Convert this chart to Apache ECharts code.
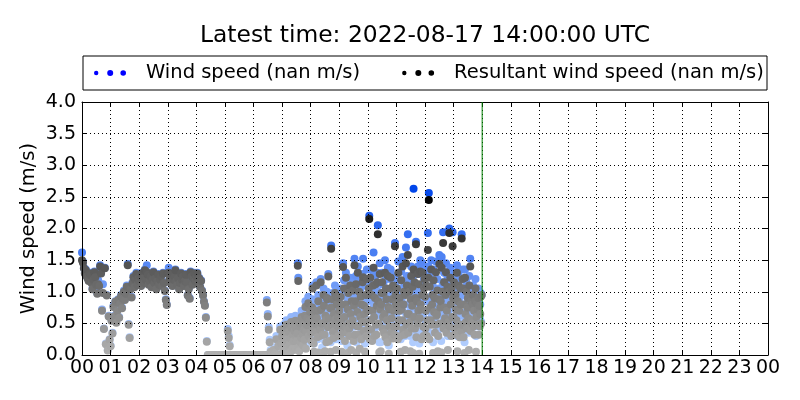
<!DOCTYPE html>
<html><head><meta charset="utf-8">
<script src="https://cdn.jsdelivr.net/npm/echarts@6/dist/echarts.min.js"></script>
<style>html,body{margin:0;padding:0;background:#fff}#c{width:800px;height:400px}</style>
</head><body><div id="c"></div>
<script>
const titleText = 'Latest time: 2022-08-17 14:00:00 UTC';
const windName = 'Wind speed (nan m/s)';
const resName = 'Resultant wind speed (nan m/s)';
const yName = 'Wind speed (m/s)';
const latestHour = 14;
const xTickLabels = ['00','01','02','03','04','05','06','07','08','09','10','11','12','13','14','15','16','17','18','19','20','21','22','23','00'];

// wind speed per hour (m/s); hours 00-06 at 2-minute steps, 07-13 at 1-minute steps
const ws00 = [1.62,1.48,1.38,1.30,1.35,1.25,1.22,1.18,1.30,1.27,1.15,1.05,1.20,1.32,1.24,1.12,0.98,1.18,1.10,1.42,1.30,0.72,1.12,0.42,1.38,0.18,0.95,0.08,0.62,0.25];
const ws01 = [0.15,0.55,0.35,0.78,0.62,0.85,0.52,0.70,0.88,0.60,0.82,0.95,0.75,0.90,1.02,0.88,0.98,1.10,1.44,0.49,0.28,1.05,0.92,1.15,1.25,1.08,1.20,1.30,1.12,1.22];
const ws02 = [1.18,1.25,1.10,1.30,1.22,1.15,1.35,1.20,1.42,1.28,1.12,1.18,1.25,1.08,1.20,1.32,1.15,1.22,1.05,1.18,1.28,1.12,1.20,1.25,1.10,1.30,1.15,1.02,0.88,0.80];
const ws03 = [1.30,1.38,1.22,1.15,1.28,1.10,1.20,1.25,1.35,1.18,1.12,1.22,1.05,1.15,1.30,1.20,1.25,1.10,1.18,1.28,1.15,0.95,1.05,0.90,1.32,1.25,1.12,1.22,1.30,1.18];
const ws04 = [1.25,1.30,1.15,1.22,1.08,1.18,1.02,0.95,0.85,0.79,0.60,0.22,0,0,0,0,0,0,0,0,0,0,0,0,0,0,0,0,0,0];
const ws05 = [0,0,0,0.41,0.30,0.16,0,0,0,0,0,0,0,0,0,0,0,0,0,0,0,0,0,0,0,0,0,0,0,0];
const ws06 = [0,0,0,0,0,0,0,0,0,0,0,0,0,0,0.87,0.65,0.44,0.24,0.08,0,0,0.12,0,0.05,0.30,0,0.18,0,0.45,0.22];
const ws07 = [0.35,0.20,0.12,0.42,0.48,0.28,0.25,0.05,0.15,0.55,0.38,0.30,0.10,0.18,0.45,0.42,0.22,0.08,0.32,0.60,
  0.50,0.22,0.15,0.38,0.28,0.12,0.45,0.15,0.62,0.50,0.35,0.28,0.40,1.45,1.22,0.18,0.10,0.52,0.58,0.25,
  0.33,0.70,0.65,0.40,0.20,0.55,0.48,0.30,0.72,0.85,0.15,0.45,0.55,0.68,0.85,0.92,0.38,0.60,0.62,0.78];
const ws08 = [0.65,0.42,0.30,0.88,1.10,0.52,0.25,0.18,0.75,0.80,0.45,0.60,1.15,0.70,0.35,0.25,0.95,0.82,0.58,0.38,
  0.50,1.20,0.85,0.62,0.12,0.40,0.62,1.05,0.90,0.40,0.22,0.75,0.68,0.28,1.00,0.98,0.55,1.28,0.70,0.30,
  0.55,0.85,0.20,1.73,0.88,0.60,0.98,0.45,0.35,0.78,0.48,1.10,0.68,0.25,1.02,0.92,0.58,0.72,0.38,1.00];
const ws09 = [0.85,0.62,0.40,1.05,0.70,0.22,0.95,0.48,1.45,0.60,1.18,0.75,0.32,0.95,1.30,0.55,0.48,0.15,0.88,1.10,
  0.65,0.55,0.40,1.22,0.80,0.30,1.00,0.62,0.70,1.15,0.32,0.92,1.52,0.45,1.00,1.25,0.20,0.60,0.82,1.40,
  0.58,0.45,1.15,0.25,0.75,1.05,0.35,0.95,0.68,1.28,1.52,0.50,0.92,0.80,0.18,0.68,1.10,0.42,1.35,0.85];
const ws10 = [0.90,0.55,1.20,2.20,0.35,1.35,0.70,0.55,1.10,0.30,0.85,1.25,1.62,0.78,0.40,1.05,1.25,0.62,0.45,0.95,
  1.30,2.05,1.00,0.65,0.20,1.45,0.88,0.20,0.95,1.12,1.30,0.58,0.75,1.15,0.50,0.82,1.50,0.40,1.20,1.05,
  0.70,0.28,1.38,0.92,0.15,0.60,0.88,1.20,1.35,0.50,0.72,1.02,0.38,1.25,0.85,0.60,0.45,1.77,1.10,0.95];
const ws11 = [0.60,1.20,0.95,0.35,1.48,0.70,0.85,1.05,0.40,0.25,1.32,0.88,0.70,1.55,0.52,0.95,1.15,0.45,0.30,1.10,
  1.70,0.62,1.25,0.80,1.91,0.48,0.80,1.15,0.68,0.30,1.02,1.40,0.55,0.92,1.22,0.20,2.63,0.75,1.30,0.55,
  1.05,1.79,0.38,1.00,0.65,1.40,0.85,1.28,0.18,0.72,1.50,0.95,0.88,0.35,1.10,1.45,0.60,0.42,1.20,1.35];
const ws12 = [1.10,0.55,0.85,1.25,0.40,0.70,1.93,1.40,2.56,0.35,1.25,0.90,0.70,1.50,0.60,0.95,1.10,0.20,1.35,0.82,
  1.05,0.48,0.60,1.48,0.78,0.80,1.20,0.30,0.40,1.05,1.58,0.65,0.90,1.00,0.22,1.55,0.65,1.15,1.94,0.55,
  1.30,0.90,0.72,1.10,1.45,0.48,0.85,1.25,0.30,0.68,1.15,2.00,0.58,1.38,0.95,0.40,1.20,0.75,1.94,1.05];
const ws13 = [0.75,1.30,0.55,0.45,1.10,0.88,0.70,1.42,0.30,1.00,0.62,1.25,0.85,0.40,1.20,0.95,0.50,1.91,0.62,1.35,
  1.20,0.40,0.95,0.20,1.35,0.80,0.68,1.15,0.55,0.90,1.05,0.72,0.35,1.25,0.90,1.52,0.50,1.00,0.70,0.65,
  0.95,1.10,0.58,0.85,0.45,1.00,1.20,0.30,0.75,0.98,0.60,0.88,1.05,0.45,0.92,0.58,0.80,0.98,0.52,0.95];

// resultant wind speed, same sampling (m/s)
const rs00 = [1.50,1.46,1.37,1.29,1.34,1.24,1.21,1.17,1.29,1.26,1.14,1.04,1.19,1.31,1.23,1.11,0.97,1.12,1.09,1.40,1.29,0.70,0.98,0.41,1.37,0.17,0.94,0.07,0.61,0.24];
const rs01 = [0.14,0.54,0.34,0.76,0.61,0.84,0.51,0.69,0.87,0.59,0.81,0.93,0.74,0.89,1.00,0.87,0.97,1.08,1.42,0.48,0.27,1.04,0.91,1.13,1.23,1.07,1.19,1.28,1.11,1.21];
const rs02 = [1.17,1.24,1.09,1.29,1.21,1.14,1.34,1.19,1.31,1.27,1.11,1.17,1.24,1.07,1.19,1.31,1.14,1.21,1.04,1.17,1.27,1.11,1.19,1.24,1.09,1.29,1.14,1.01,0.87,0.79];
const rs03 = [1.29,1.30,1.21,1.14,1.27,1.09,1.19,1.24,1.34,1.17,1.11,1.21,1.04,1.14,1.29,1.19,1.24,1.09,1.17,1.27,1.14,0.94,1.04,0.89,1.31,1.24,1.11,1.21,1.29,1.17];
const rs04 = [1.24,1.29,1.14,1.21,1.07,1.17,1.01,0.94,0.84,0.78,0.59,0.21,0,0,0,0,0,0,0,0,0,0,0,0,0,0,0,0,0,0];
const rs05 = [0,0,0,0.38,0.27,0.14,0,0,0,0,0,0,0,0,0,0,0,0,0,0,0,0,0,0,0,0,0,0,0,0];
const rs06 = [0,0,0,0,0,0,0,0,0,0,0,0,0,0,0.83,0.61,0.40,0.20,0.05,0,0,0.08,0,0.03,0.25,0,0.14,0,0.40,0.18];
const rs07 = [0.30,0.16,0.08,0.36,0.42,0.22,0.20,0.02,0.10,0.48,0.32,0.25,0.06,0.13,0.38,0.36,0.17,0.04,0.26,0.52,
  0.43,0.17,0.10,0.32,0.22,0.08,0.38,0.10,0.54,0.43,0.29,0.22,0.34,1.41,1.17,0.12,0.06,0.45,0.50,0.20,
  0.27,0.60,0.56,0.33,0.15,0.47,0.40,0.24,0.62,0.76,0.10,0.37,0.47,0.58,0.75,0.82,0.30,0.52,0.54,0.68];
const rs08 = [0.55,0.35,0.22,0.75,1.05,0.42,0.18,0.05,0.62,0.70,0.36,0.50,1.10,0.58,0.28,0.04,0.85,0.70,0.46,0.30,
  0.40,1.15,0.72,0.50,0.03,0.32,0.50,0.95,0.78,0.32,0.06,0.62,0.56,0.20,0.90,0.88,0.44,1.24,0.58,0.22,
  0.44,0.74,0.05,1.68,0.75,0.48,0.88,0.36,0.27,0.65,0.38,0.98,0.56,0.08,0.92,0.80,0.46,0.60,0.30,0.90];
const rs09 = [0.70,0.48,0.30,0.92,0.55,0.05,0.80,0.36,1.39,0.46,1.05,0.60,0.22,0.80,1.22,0.42,0.35,0.03,0.72,0.98,
  0.50,0.42,0.30,1.10,0.65,0.08,0.85,0.48,0.55,1.02,0.22,0.78,1.42,0.32,0.85,1.12,0.04,0.46,0.68,1.30,
  0.45,0.32,1.00,0.10,0.60,0.92,0.25,0.80,0.52,1.15,1.23,0.38,0.78,0.65,0.05,0.52,0.95,0.30,1.20,0.70];
const rs10 = [0.72,0.42,1.05,2.15,0.25,1.22,0.55,0.40,0.95,0.22,0.70,1.10,1.38,0.60,0.30,0.90,1.12,0.48,0.32,0.78,
  1.15,1.91,0.85,0.50,0.04,1.28,0.72,0.06,0.80,0.98,1.15,0.42,0.60,0.98,0.35,0.65,1.30,0.28,1.05,0.88,
  0.55,0.20,1.25,0.76,0.02,0.45,0.72,1.05,1.22,0.36,0.58,0.88,0.26,1.10,0.70,0.45,0.32,1.72,0.95,0.80];
const rs11 = [0.45,1.05,0.80,0.25,1.30,0.55,0.70,0.90,0.30,0.05,1.18,0.72,0.55,1.40,0.40,0.80,1.00,0.32,0.08,0.95,
  1.45,0.48,1.10,0.65,1.58,0.35,0.65,1.00,0.52,0.06,0.88,1.25,0.42,0.78,1.08,0.03,1.35,0.60,1.15,0.42,
  0.90,1.75,0.28,0.85,0.50,1.28,0.70,1.12,0.02,0.58,1.32,0.80,0.72,0.25,0.95,1.30,0.45,0.30,1.05,1.20];
const rs12 = [0.92,0.42,0.70,1.10,0.30,0.55,1.66,1.22,2.45,0.25,1.08,0.75,0.55,1.35,0.48,0.80,0.95,0.03,1.18,0.68,
  0.90,0.35,0.48,1.31,0.62,0.65,1.02,0.06,0.30,0.88,1.44,0.50,0.75,0.85,0.04,1.38,0.50,1.00,1.77,0.42,
  1.15,0.75,0.58,0.95,1.31,0.35,0.70,1.08,0.08,0.52,1.00,1.93,0.45,1.22,0.80,0.30,1.05,0.60,1.72,0.90];
const rs13 = [0.60,1.15,0.42,0.32,0.95,0.72,0.55,1.30,0.06,0.85,0.48,1.10,0.70,0.28,1.05,0.80,0.38,1.84,0.48,1.20,
  1.05,0.28,0.80,0.03,1.22,0.65,0.52,1.00,0.42,0.75,0.90,0.58,0.08,1.10,0.75,1.40,0.38,0.85,0.55,0.50,
  0.80,0.95,0.45,0.70,0.32,0.85,1.05,0.05,0.60,0.82,0.48,0.72,0.90,0.32,0.78,0.45,0.65,0.92,0.50,0.95];

const wsHours = [ws00,ws01,ws02,ws03,ws04,ws05,ws06,ws07,ws08,ws09,ws10,ws11,ws12,ws13];
const rsHours = [rs00,rs01,rs02,rs03,rs04,rs05,rs06,rs07,rs08,rs09,rs10,rs11,rs12,rs13];

function toPoints(hours){
  const out = [];
  hours.forEach((arr, h) => arr.forEach((v, i) => out.push([h + i / arr.length, v])));
  return out;
}
const clamp = (x) => Math.max(0, Math.min(255, Math.round(x)));
function blueColor(v){ return 'rgb(' + clamp(190 - 72*v) + ',' + clamp(215 - 55*v) + ',' + clamp(255 - 8*v) + ')'; }
function greyColor(v){ const l = clamp(175 * (1 - Math.pow(Math.min(v, 2.5) / 2.5, 1.15))); return 'rgb(' + l + ',' + l + ',' + l + ')'; }

const dots = 'path://M0.8,3a2.2,2.2 0 1,0 4.4,0a2.2,2.2 0 1,0 -4.4,0ZM14,3a3,3 0 1,0 6,0a3,3 0 1,0 -6,0ZM27.2,3a2.8,2.8 0 1,0 5.6,0a2.8,2.8 0 1,0 -5.6,0Z';
const FONT = 'DejaVu Sans';
const black = '#000';
const gridLine = {show:true, lineStyle:{color:black, width:1, type:[1,3]}};

const chart = echarts.init(document.getElementById('c'), null, {renderer:'canvas'});
chart.setOption({
  animation:false,
  backgroundColor:'#fff',
  textStyle:{fontFamily:FONT, color:black},
  title:{text:titleText, left:200, top:24, padding:0, textStyle:{fontFamily:FONT, fontSize:23.4, fontWeight:'normal', color:black}},
  legend:{left:94, top:63, padding:0, itemWidth:32, itemHeight:6, itemGap:42, selectedMode:false,
    textStyle:{fontFamily:FONT, fontSize:19.5, color:black, padding:[0,0,0,15]},
    data:[{name:windName, icon:dots, itemStyle:{color:'#0000ff'}},{name:resName, icon:dots, itemStyle:{color:black}}]},
  graphic:[
    {type:'rect', shape:{x:83, y:56, width:684, height:34}, style:{fill:'none', stroke:black, lineWidth:1}, z:10},
    {type:'rect', shape:{x:76, y:356, width:700, height:5}, style:{fill:'#fff'}, z:4}
  ],
  grid:{left:82, right:32, top:102, bottom:45, containLabel:false},
  xAxis:[
    {type:'value', min:0, max:24, interval:1, z:5,
     axisLine:{show:true, onZero:false, lineStyle:{color:black, width:1}},
     axisTick:{show:true, inside:true, length:5, lineStyle:{color:black}},
     axisLabel:{formatter:(v)=>xTickLabels[Math.round(v)], fontFamily:FONT, fontSize:19, color:black, margin:4},
     splitLine:gridLine},
    {type:'value', position:'top', min:0, max:24, interval:1, z:5,
     axisLine:{show:true, onZero:false, lineStyle:{color:black, width:1}},
     axisTick:{show:true, inside:true, length:5, lineStyle:{color:black}},
     axisLabel:{show:false}, splitLine:{show:false}}
  ],
  yAxis:[
    {type:'value', min:0, max:4, interval:0.5, z:5,
     name:yName, nameLocation:'middle', nameGap:43, nameMoveOverlap:false,
     nameTextStyle:{fontFamily:FONT, fontSize:19.5, color:black},
     axisLine:{show:true, onZero:false, lineStyle:{color:black, width:1}},
     axisTick:{show:true, inside:true, length:5, lineStyle:{color:black}},
     axisLabel:{formatter:(v)=>v.toFixed(1), fontFamily:FONT, fontSize:19, color:black, margin:6},
     splitLine:gridLine},
    {type:'value', position:'right', min:0, max:4, interval:0.5, z:5,
     axisLine:{show:true, onZero:false, lineStyle:{color:black, width:1}},
     axisTick:{show:true, inside:true, length:5, lineStyle:{color:black}},
     axisLabel:{show:false}, splitLine:{show:false}}
  ],
  series:[
    {name:windName, type:'scatter', symbolSize:8, z:2, data:toPoints(wsHours),
     itemStyle:{color:(p)=>blueColor(p.value[1]), opacity:1}},
    {name:resName, type:'scatter', symbolSize:8, z:3, data:toPoints(rsHours),
     itemStyle:{color:(p)=>greyColor(p.value[1]), opacity:1}},
    {name:'latest', type:'line', z:6, silent:true, symbol:'none',
     data:[[latestHour,0],[latestHour,4]], lineStyle:{color:'#008000', width:1}}
  ]
});
</script></body></html>
